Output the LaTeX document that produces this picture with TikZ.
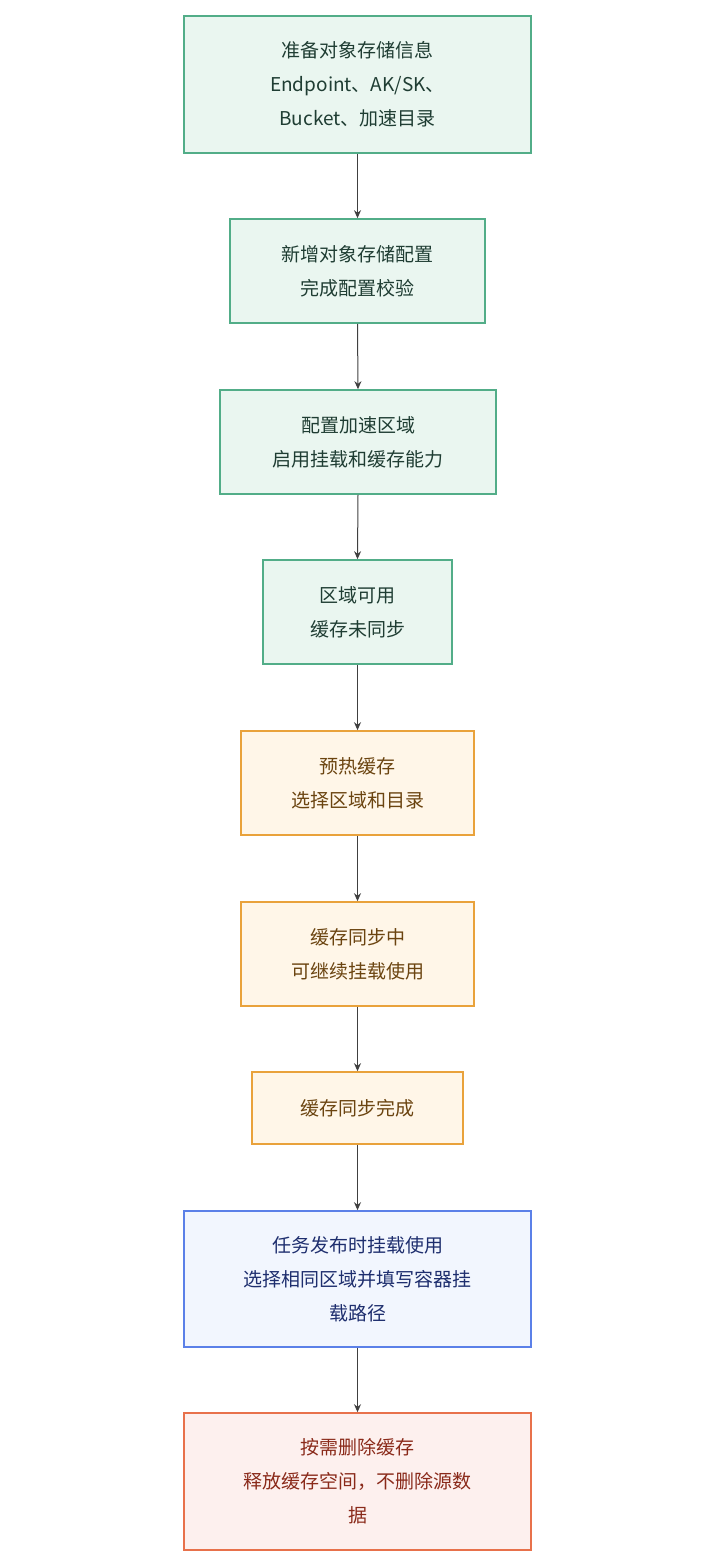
\documentclass[tikz,border=0pt]{standalone}
\usepackage{fontspec}
\setmainfont{Noto Sans CJK SC}
\usetikzlibrary{arrows.meta}
\definecolor{gnline}{HTML}{52AD88}\definecolor{gnfill}{HTML}{EAF6F0}\definecolor{gntext}{HTML}{1F3D33}
\definecolor{orline}{HTML}{E9A23B}\definecolor{orfill}{HTML}{FFF6E8}\definecolor{ortext}{HTML}{6B4410}
\definecolor{blline}{HTML}{5B80E8}\definecolor{blfill}{HTML}{F2F6FE}\definecolor{bltext}{HTML}{1E2E6E}
\definecolor{rdline}{HTML}{E8714B}\definecolor{rdfill}{HTML}{FDF0EE}\definecolor{rdtext}{HTML}{8A2A1A}
\begin{document}
\begin{tikzpicture}[x=1pt,y=-1pt,
every node/.style={font=\fontsize{19}{34}\selectfont},
stage/.style={%
draw,
line width=1.6pt,
align=center,
inner sep=0pt
},
setup/.style={stage,draw=gnline,fill=gnfill,text=gntext},
cache/.style={stage,draw=orline,fill=orfill,text=ortext},
use/.style={stage,draw=blline,fill=blfill,text=bltext},
clean/.style={stage,draw=rdline,fill=rdfill,text=rdtext},
link/.style={draw=black!75,line width=1pt,-{Stealth[length=8pt,width=7pt]}}
]
\useasboundingbox (0,0) rectangle (720,1568);
\node[setup,minimum width=347pt,minimum height=137pt](prep)at(357.5,84.5){准备对象存储信息\\Endpoint、AK/SK、\\Bucket、加速目录};
\node[setup,minimum width=255pt,minimum height=104pt](conf)at(357.5,271){新增对象存储配置\\完成配置校验};
\node[setup,minimum width=276pt,minimum height=104pt](zone)at(358,442){配置加速区域\\启用挂载和缓存能力};
\node[setup,minimum width=189pt,minimum height=104pt](ready)at(357.5,612){区域可用\\缓存未同步};
\node[cache,minimum width=233pt,minimum height=104pt](warm)at(357.5,783){预热缓存\\选择区域和目录};
\node[cache,minimum width=233pt,minimum height=104pt](sync)at(357.5,954){缓存同步中\\可继续挂载使用};
\node[cache,minimum width=211pt,minimum height=72pt](done)at(357.5,1108){缓存同步完成};
\node[use,minimum width=347pt,minimum height=136pt](mount)at(357.5,1279){任务发布时挂载使用\\选择相同区域并填写容器挂\\载路径};
\node[clean,minimum width=347pt,minimum height=137pt](del)at(357.5,1481.5){按需删除缓存\\释放缓存空间，不删除源数\\据};
\foreach \a/\b in {prep/conf,conf/zone,zone/ready,ready/warm,warm/sync,sync/done,done/mount,mount/del}{%
\draw[link] (\a.south)--(\b.north);
}
\end{tikzpicture}
\end{document}
